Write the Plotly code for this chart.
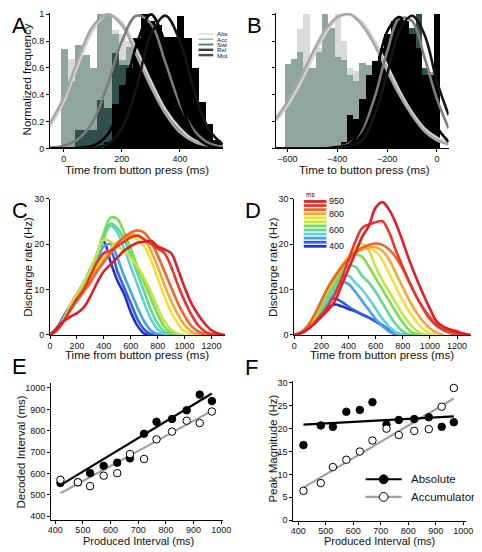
import plotly.graph_objects as go

# The page body has an 8px margin, so figure coordinates are shifted by 8px.
OFF = 8
W, H = 474, 544
FONT = "Liberation Sans, Arial, sans-serif"


def px(x):
    return min(1.0, max(0.0, (x - OFF) / W))


def py(y):
    return min(1.0, max(0.0, 1 - (y - OFF) / H))


# ---------------- Panel A : histograms + fitted curves ----------------
a_bin_centers = [2.5, 27.5, 52.5, 77.5, 102.5, 127.5, 152.5, 177.5, 202.5, 227.5, 252.5,
                 277.5, 302.5, 327.5, 352.5, 377.5, 402.5, 427.5, 452.5, 477.5, 502.5, 527.5]
a_hist_light = [0.65, 0.67, 0.72, 0.60, 0.55, 1.00, 0.97, 0.88, 0.85, 0.80, 0.78,
                0.50, 0.40, 0.30, 0.20, 0.10, 0.05, 0, 0, 0, 0, 0]
a_hist_teal = [0.74, 0.50, 0.77, 0.70, 0.60, 1.00, 1.00, 0.85, 0.66, 0.76, 0.76,
               0.50, 0.40, 0.30, 0.20, 0.10, 0.05, 0, 0, 0, 0, 0]
a_hist_dark = [0, 0, 0.14, 0.14, 0.14, 0.36, 0.30, 0.71, 0.62, 0.62, 0.50,
               0.40, 0.30, 0.20, 0.10, 0.05, 0, 0, 0, 0, 0, 0]
a_hist_black = [0, 0, 0, 0, 0, 0, 0.05, 0.33, 0.47, 0.60, 0.82,
                1.00, 0.95, 0.92, 0.83, 0.83, 0.99, 0.82, 0.60, 0.35, 0.18, 0.06]

a_curve_x = [-47, 0, 50, 100, 150, 200, 250, 300, 350, 400, 450, 500, 548]
a_abs = [0.16, 0.35, 0.63, 0.88, 1.0, 0.94, 0.74, 0.50, 0.29, 0.15, 0.06, 0.03, 0.01]
a_acc = [0.19, 0.38, 0.67, 0.91, 1.0, 0.92, 0.70, 0.46, 0.26, 0.12, 0.05, 0.02, 0.01]
a_swi = [0.005, 0.02, 0.07, 0.20, 0.47, 0.80, 0.99, 0.93, 0.64, 0.33, 0.13, 0.04, 0.01]
a_rel = [0, 0, 0.005, 0.02, 0.10, 0.35, 0.77, 1.0, 0.78, 0.37, 0.10, 0.02, 0.0]
a_mot = [0, 0, 0, 0.005, 0.03, 0.15, 0.45, 0.85, 0.99, 0.80, 0.42, 0.14, 0.03]

# ---------------- Panel B ----------------
b_bin_centers = [-599.5, -574.5, -549.5, -524.5, -499.5, -474.5, -449.5, -424.5, -399.5,
                 -374.5, -349.5, -324.5, -299.5, -274.5, -249.5, -224.5, -199.5, -174.5,
                 -149.5, -124.5, -99.5, -74.5, -49.5, -24.5, 0.5]
b_hist_light = [0, 0, 0.89, 1.00, 0.60, 0.75, 0.80, 0.80, 1.00, 0.80, 0.60, 0.58, 0.60,
                0.55, 0.45, 0.40, 0.35, 0.30, 0.30, 0.35, 0.45, 0.55, 0.60, 0.50, 0]
b_hist_teal = [0.63, 0.67, 0.72, 0.60, 0.60, 0.72, 1.00, 0.90, 0.68, 0.66, 0.55, 0.50, 0.64,
               0.62, 0.50, 0.45, 0.40, 0.35, 0.35, 0.40, 0.50, 0.60, 0.57, 0.57, 0]
b_hist_dark = [0, 0, 0, 0, 0, 0, 0, 0, 0, 0.04, 0.21, 0.20, 0.30,
               0.45, 0.50, 0.55, 0.60, 0.60, 0.65, 0.70, 0.90, 1.00, 0.60, 0.50, 0]
b_hist_black = [0, 0, 0, 0, 0, 0, 0, 0, 0, 0.05, 0.25, 0.22, 0.37,
                0.55, 0.65, 0.75, 0.85, 0.95, 0.98, 0.95, 0.85, 0.75, 0.55, 0.55, 1.00]

b_curve_x = [-647, -600, -550, -500, -450, -400, -350, -300, -250, -200, -150, -100, -50, 0, 47]
b_abs = [0.20, 0.32, 0.48, 0.67, 0.85, 0.97, 1.0, 0.94, 0.80, 0.62, 0.43, 0.27, 0.15, 0.08, 0.04]
b_acc = [0.22, 0.35, 0.52, 0.71, 0.88, 0.98, 1.0, 0.92, 0.77, 0.58, 0.40, 0.25, 0.13, 0.06, 0.03]
b_swi = [0, 0, 0, 0, 0, 0.01, 0.04, 0.14, 0.38, 0.72, 0.97, 0.95, 0.68, 0.37, 0.15]
b_rel = [0, 0, 0, 0, 0, 0.01, 0.03, 0.17, 0.50, 0.87, 0.98, 0.70, 0.38, 0.16, 0.05]
b_mot = [0, 0, 0, 0, 0, 0, 0.02, 0.06, 0.25, 0.55, 0.88, 0.99, 0.85, 0.50, 0.25]

legend_a_labels = ["Abs", "Acc", "Swi", "Rel", "Mot"]

# ---------------- Panels C / D : discharge rate per interval ----------------
interval_labels = [400, 450, 500, 550, 600, 650, 700, 750, 800, 850, 900, 950]
interval_colors = ["#2231d0", "#2f62dc", "#44a4ea", "#5cd2dc", "#60d890", "#7cdc50",
                   "#c4e444", "#f2e03a", "#f6a834", "#f0642e", "#e8362a", "#e21c28"]
rate_x = [0, 50, 100, 150, 200, 250, 300, 350, 400, 450, 500, 550, 600, 650,
          700, 750, 800, 850, 900, 950, 1000, 1050, 1100, 1150, 1200, 1250, 1300]

c400 = [0, 1.5, 4, 6.5, 9, 11.5, 14.5, 17.5, 20.5, 16, 12, 9, 5, 2, 0.3, 0,
        0, 0, 0, 0, 0, 0, 0, 0, 0, 0, 0]
c450 = [0, 1.3, 3.8, 6.3, 8.8, 11, 13.5, 16, 18, 18.5, 14, 10.5, 7, 3.5, 1.2, 0.2, 0,
        0, 0, 0, 0, 0, 0, 0, 0, 0, 0]
c500 = [0, 1.2, 3.6, 6, 8.5, 10.8, 13.5, 16.5, 19.5, 20, 17, 13, 9.5, 6, 3, 1, 0.2, 0,
        0, 0, 0, 0, 0, 0, 0, 0, 0]
c550 = [0, 1.2, 3.5, 6, 8.5, 11, 14, 17.5, 21.5, 24, 22.5, 19, 15, 11, 7, 3.5, 1.2, 0.3, 0,
        0, 0, 0, 0, 0, 0, 0, 0]
c600 = [0, 1.2, 3.5, 6, 8.5, 11, 14, 17.5, 21.5, 24.5, 23.5, 21, 17.5, 13.5, 9.5, 5.5, 2.5,
        0.8, 0.2, 0, 0, 0, 0, 0, 0, 0, 0]
c650 = [0, 1.2, 3.5, 6, 8.5, 11, 14, 18, 22.5, 25.8, 25.5, 22.5, 19, 15, 11.5, 8, 4.5,
        1.8, 0.5, 0, 0, 0, 0, 0, 0, 0, 0]
c700 = [0, 1.2, 3.5, 6.5, 9, 11.5, 14.5, 18, 21, 20.5, 19.5, 18.5, 17, 15, 12.5, 9.5, 6,
        3, 1.2, 0.3, 0, 0, 0, 0, 0, 0, 0]
c750 = [0, 1, 3, 5.5, 8, 10, 12.5, 15, 17, 19, 20.5, 21.2, 21.5, 21, 19.5, 16.5, 12.5,
        8.5, 5, 2.5, 0.8, 0.2, 0, 0, 0, 0, 0]
c800 = [0, 1, 3, 5.5, 7.8, 9.8, 12, 14.5, 16.5, 18.5, 20.3, 21.5, 22, 22, 21, 18.5, 15,
        11, 7.5, 4.5, 2.2, 0.8, 0.2, 0, 0, 0, 0]
c850 = [0, 1, 3, 5.5, 7.5, 9.5, 11.5, 14, 16, 18, 20, 21.5, 22.5, 23, 22.5, 20.5, 17.5,
        14, 10.5, 7, 4.2, 2, 0.8, 0.2, 0, 0, 0]
c900 = [0, 1, 3, 5.5, 8, 10, 13, 16, 18, 18.5, 19.5, 20.5, 21.5, 21.8, 21, 20, 19, 18,
        15, 11, 7.5, 4.5, 2.2, 0.8, 0.2, 0, 0]
c950 = [0, 1.5, 3, 4, 4.8, 6, 8.5, 11.5, 14, 15.5, 17, 18.5, 19.5, 20.3, 20.5, 20.7, 19.5,
        18.8, 18, 14.5, 10.5, 7, 4.5, 2.5, 1, 0.3, 0]

d400 = [0, 0.5, 1.5, 3, 4.5, 6, 6.7, 6.3, 5.7, 5.2, 4.5, 3.8, 3, 2.2, 1, 0.2, 0,
        0, 0, 0, 0, 0, 0, 0, 0, 0, 0]
d450 = [0, 0.5, 1.5, 3.2, 5.2, 7.6, 8, 7.3, 6.2, 5.3, 4.5, 3.8, 3, 2, 0.8, 0.1, 0,
        0, 0, 0, 0, 0, 0, 0, 0, 0, 0]
d500 = [0, 0.5, 1.5, 3.3, 5.3, 7.5, 10, 11.6, 11.2, 9.5, 7.5, 5.5, 3.5, 2, 0.8, 0.2, 0,
        0, 0, 0, 0, 0, 0, 0, 0, 0, 0]
d550 = [0, 0.5, 1.5, 3.4, 5.5, 8, 10.5, 12.7, 13, 11.5, 10, 8, 5.8, 3.6, 1.8, 0.6, 0.1, 0,
        0, 0, 0, 0, 0, 0, 0, 0, 0]
d600 = [0, 0.5, 1.5, 3.5, 6, 8.5, 11, 13.5, 15.2, 15, 13, 11.5, 9.5, 7, 4.5, 2.3, 0.8, 0.1,
        0, 0, 0, 0, 0, 0, 0, 0, 0]
d650 = [0, 0.5, 1.5, 3.5, 6.2, 9, 11.5, 14, 16.3, 17.6, 17.2, 15, 12.5, 10, 7.5, 5, 2.8,
        1, 0.2, 0, 0, 0, 0, 0, 0, 0, 0]
d700 = [0, 0.5, 1.7, 4, 7, 10, 12.5, 15, 17.3, 19, 20, 18.5, 15, 12, 9.5, 7, 4.5,
        2.5, 1, 0.2, 0, 0, 0, 0, 0, 0, 0]
d750 = [0, 0.5, 1.8, 4.3, 7.5, 10.5, 13, 15.3, 17.2, 18.5, 19, 19, 18.3, 16.5, 13.5, 10.5,
        7.5, 5, 3, 1.3, 0.4, 0, 0, 0, 0, 0, 0]
d800 = [0, 0.6, 2, 4.5, 7.5, 10.5, 13, 15, 16.8, 18, 18.8, 19.2, 19.3, 18.5, 16.5, 13.5,
        10.5, 7.5, 5, 3, 1.5, 0.5, 0, 0, 0, 0, 0]
d850 = [0, 0.6, 2, 4.5, 7.5, 10.5, 12.8, 15, 16.8, 18.2, 19.2, 19.8, 20.1, 19.8, 18.8, 17,
        14.5, 11.5, 8.5, 6, 4, 2.3, 1, 0.4, 0.1, 0, 0]
d900 = [0, 0.4, 1.3, 2.8, 4.5, 6.5, 9, 12.5, 16.5, 20.5, 23.5, 24.3, 24.8, 25, 22.5, 18.5,
        15, 11.5, 8.5, 5.8, 3.5, 2, 1.2, 0.8, 0.4, 0.1, 0]
d950 = [0, 0.4, 1.2, 2.5, 4, 5.5, 7.5, 11, 14.5, 18, 21.5, 24, 28, 29.2, 27.5, 24.5, 20.5,
        16.3, 12.5, 9, 5.8, 3, 1.8, 1.2, 0.8, 0.3, 0]

c_rates = [c400, c450, c500, c550, c600, c650, c700, c750, c800, c850, c900, c950]
d_rates = [d400, d450, d500, d550, d600, d650, d700, d750, d800, d850, d900, d950]
legend_d_labels = {0: "950", 3: "800", 7: "600", 11: "400"}

# ---------------- Panels E / F ----------------
produced_interval = [419, 482, 526, 575, 624, 670, 721, 766, 822, 875, 922, 966]
e_decoded_abs = [556, 559, 602, 636, 651, 671, 786, 842, 855, 896, 969, 939]
e_decoded_acc = [571, 559, 541, 590, 602, 691, 668, 760, 796, 847, 836, 890]
fit_x = [419, 966]
e_fit_abs = [546, 974]
e_fit_acc = [508, 893]
f_peak_abs = [16.4, 20.7, 20.4, 23.7, 24.1, 25.8, 20.9, 21.9, 22.1, 22.5, 20.4, 21.4]
f_peak_acc = [6.4, 8.1, 11.6, 13.2, 15.0, 17.4, 20.0, 18.6, 19.5, 19.9, 24.8, 28.9]
f_fit_abs = [20.9, 22.7]
f_fit_acc = [7.1, 26.6]

# ---------------- Build figure ----------------
fig = go.Figure()

C_LIGHT, C_TEAL, C_DARK, C_BLACK = "#d9d9d9", "#90a4a0", "#2f4f4a", "#000000"
CURVE_COLORS = ["#d2d2d2", "#a8a8a8", "#7c7c7c", "#000000", "#151515"]


def add_hist(centers, vals, color, xa, ya):
    fig.add_trace(go.Bar(x=centers, y=vals, width=25, marker=dict(color=color, line=dict(width=0)),
                         xaxis=xa, yaxis=ya, showlegend=False))


for vals, col in [(a_hist_light, C_LIGHT), (a_hist_teal, C_TEAL), (a_hist_dark, C_DARK), (a_hist_black, C_BLACK)]:
    add_hist(a_bin_centers, vals, col, "x", "y")
for vals, col in [(b_hist_light, C_LIGHT), (b_hist_teal, C_TEAL), (b_hist_dark, C_DARK), (b_hist_black, C_BLACK)]:
    add_hist(b_bin_centers, vals, col, "x2", "y2")

for ys, col in zip([a_abs, a_acc, a_swi, a_rel, a_mot], CURVE_COLORS):
    fig.add_trace(go.Scatter(x=a_curve_x, y=ys, mode="lines", line=dict(color=col, width=2.6, shape="spline"),
                             xaxis="x", yaxis="y", showlegend=False))
for ys, col in zip([b_abs, b_acc, b_swi, b_rel, b_mot], CURVE_COLORS):
    fig.add_trace(go.Scatter(x=b_curve_x, y=ys, mode="lines", line=dict(color=col, width=2.6, shape="spline"),
                             xaxis="x2", yaxis="y2", showlegend=False))


def trim(xs, ys):
    peak = ys.index(max(ys))
    end = len(ys)
    for j in range(peak, len(ys)):
        if ys[j] == 0:
            end = j + 1
            break
    return xs[:end], ys[:end]


for rates, xa, ya in [(c_rates, "x3", "y3"), (d_rates, "x4", "y4")]:
    for ys, col in zip(rates, interval_colors):
        tx, ty = trim(rate_x, ys)
        fig.add_trace(go.Scatter(x=tx, y=ty, mode="lines", line=dict(color=col, width=2.6, shape="spline"),
                                 xaxis=xa, yaxis=ya, showlegend=False))

# E
fig.add_trace(go.Scatter(x=fit_x, y=e_fit_acc, mode="lines", line=dict(color="#a0a0a0", width=2.2),
                         xaxis="x5", yaxis="y5", showlegend=False))
fig.add_trace(go.Scatter(x=fit_x, y=e_fit_abs, mode="lines", line=dict(color="black", width=2.2),
                         xaxis="x5", yaxis="y5", showlegend=False))
fig.add_trace(go.Scatter(x=produced_interval, y=e_decoded_abs, mode="markers",
                         marker=dict(color="black", size=7.5, line=dict(color="black", width=1)),
                         xaxis="x5", yaxis="y5", showlegend=False))
fig.add_trace(go.Scatter(x=produced_interval, y=e_decoded_acc, mode="markers",
                         marker=dict(color="white", size=7.5, line=dict(color="black", width=1)),
                         xaxis="x5", yaxis="y5", showlegend=False))
# F
fig.add_trace(go.Scatter(x=fit_x, y=f_fit_acc, mode="lines", line=dict(color="#a0a0a0", width=2.2),
                         xaxis="x6", yaxis="y6", showlegend=False))
fig.add_trace(go.Scatter(x=fit_x, y=f_fit_abs, mode="lines", line=dict(color="black", width=2.2),
                         xaxis="x6", yaxis="y6", showlegend=False))
fig.add_trace(go.Scatter(x=produced_interval, y=f_peak_abs, mode="markers",
                         marker=dict(color="black", size=7.5, line=dict(color="black", width=1)),
                         xaxis="x6", yaxis="y6", showlegend=False))
fig.add_trace(go.Scatter(x=produced_interval, y=f_peak_acc, mode="markers",
                         marker=dict(color="white", size=7.5, line=dict(color="black", width=1)),
                         xaxis="x6", yaxis="y6", showlegend=False))


def axis(domain, rng, tickvals, anchor, ticktext=None, labels=True, fs=9, standoff=0):
    d = dict(domain=domain, range=rng, tickvals=tickvals, anchor=anchor, showline=True,
             linecolor="black", linewidth=1, ticks="outside", ticklen=3, tickwidth=1,
             tickcolor="black", showgrid=False, zeroline=False, showticklabels=labels,
             tickfont=dict(size=fs, color="#111", family=FONT), fixedrange=True,
             ticklabelstandoff=standoff)
    if ticktext is not None:
        d["ticktext"] = ticktext
    return d


yA_dom = [py(146), py(8)]
yC_dom = [py(336), py(197)]
freq_ticks = [0, 0.2, 0.4, 0.6, 0.8, 1.0]
freq_text = ["0", "0.2", "0.4", "0.6", "0.8", "1"]
t_ticks = [0, 200, 400, 600, 800, 1000, 1200]
iv_ticks = [400, 500, 600, 700, 800, 900, 1000]

layout = dict(
    width=W, height=H, margin=dict(l=0, r=0, t=0, b=0),
    paper_bgcolor="white", plot_bgcolor="rgba(0,0,0,0)",
    barmode="overlay", bargap=0, showlegend=False,
    font=dict(family=FONT, color="#111"),
    xaxis=axis([px(48), px(225)], [-47, 548], [0, 200, 400], "y", standoff=-1),
    yaxis=axis(yA_dom, [0, 1.01], freq_ticks, "x", freq_text),
    xaxis2=axis([px(279), px(456)], [-647, 47], [-600, -400, -200, 0], "y2", standoff=-1),
    yaxis2=axis(yA_dom, [0, 1.01], freq_ticks, "x2", labels=False),
    xaxis3=axis([px(48), px(227)], [0, 1300], t_ticks, "y3", standoff=-1),
    yaxis3=axis(yC_dom, [0, 30], [0, 10, 20, 30], "x3"),
    xaxis4=axis([px(298), px(478.5)], [0, 1300], t_ticks, "y4", standoff=-1),
    yaxis4=axis(yC_dom, [0, 30], [0, 10, 20, 30], "x4"),
    xaxis5=axis([px(49), px(225)], [385, 1006], iv_ticks, "y5", standoff=-1),
    yaxis5=axis([py(524), py(385)], [385, 1023], iv_ticks, "x5"),
    xaxis6=axis([px(297), px(474)], [382, 1011], iv_ticks, "y6", standoff=-2),
    yaxis6=axis([py(526), py(383)], [-0.3, 30.4], [0, 5, 10, 15, 20, 25, 30], "x6"),
)
fig.update_layout(**layout)

annotations = []
shapes = []


def text(x, y, s, size, xanchor="center", angle=0, color="#111"):
    annotations.append(dict(x=px(x), y=py(y), xref="paper", yref="paper", text=s, showarrow=False,
                            xanchor=xanchor, yanchor="middle", textangle=angle,
                            font=dict(size=size, family=FONT, color=color)))


# panel letters
for lbl, x, y in [("A", 8, 20.5), ("B", 249, 20.5), ("C", 8, 209), ("D", 247, 209), ("E", 8, 368), ("F", 247, 369)]:
    annotations.append(dict(x=px(x), y=py(y), xref="paper", yref="paper", text=lbl, showarrow=False,
                            xanchor="left", yanchor="middle", borderpad=0,
                            font=dict(size=22, family=FONT, color="black")))

# axis titles
TS = 11.5
text(136.5, 167.5, "Time from button press (ms)", TS)
text(370, 167.5, "Time to button press (ms)", TS)
text(24, 76, "Normalized frequency", 11.5, angle=-90)
text(137, 356.5, "Time from button press (ms)", TS)
text(388, 356.5, "Time from button press (ms)", TS)
text(26, 267, "Discharge rate (Hz)", TS, angle=-90)
text(276, 267, "Discharge rate (Hz)", TS, angle=-90)
text(139, 545.8, "Produced Interval (ms)", 11)
text(385, 545.8, "Produced Interval (ms)", 11)
text(18, 455, "Decoded Interval (ms)", TS, angle=-90)
text(276, 452, "Peak Magnitude (Hz)", TS, angle=-90)

# legend A
leg_a_colors = ["#dcdcdc", "#b4b4b4", "#557570", "#3a3a3a", "#4a4a4a"]
leg_a_widths = [1.6, 1.6, 1.8, 2.4, 2.4]
for i, (lab, col, wd) in enumerate(zip(legend_a_labels, leg_a_colors, leg_a_widths)):
    yy = 29.3 + 5.4 * i
    shapes.append(dict(type="line", xref="paper", yref="paper", x0=px(200), x1=px(215), y0=py(yy), y1=py(yy),
                       line=dict(color=col, width=wd)))
    text(217, yy, lab, 6.2, xanchor="left")

# legend D
text(315, 193, "ms", 6.5)
for i, col in enumerate(reversed(interval_colors)):
    yy = 200 + 4.15 * i
    shapes.append(dict(type="line", xref="paper", yref="paper", x0=px(307.7), x1=px(331), y0=py(yy), y1=py(yy),
                       line=dict(color=col, width=2.8)))
    if i in legend_d_labels:
        text(332, yy, legend_d_labels[i], 9, xanchor="left")

# legend F
for yy, lc, fc, lab in [(483, "black", "black", "Absolute"), (501, "#a0a0a0", "white", "Accumulator")]:
    shapes.append(dict(type="line", xref="paper", yref="paper", x0=px(371), x1=px(408), y0=py(yy), y1=py(yy),
                       line=dict(color=lc, width=2.2)))
    r = 4.5
    shapes.append(dict(type="circle", xref="paper", yref="paper", x0=px(389.5 - r), x1=px(389.5 + r),
                       y0=py(yy + r), y1=py(yy - r), fillcolor=fc, line=dict(color="black", width=1)))
    text(415, yy, lab, 11.5, xanchor="left")

fig.update_layout(annotations=annotations, shapes=shapes)
fig.write_html("out.html")
